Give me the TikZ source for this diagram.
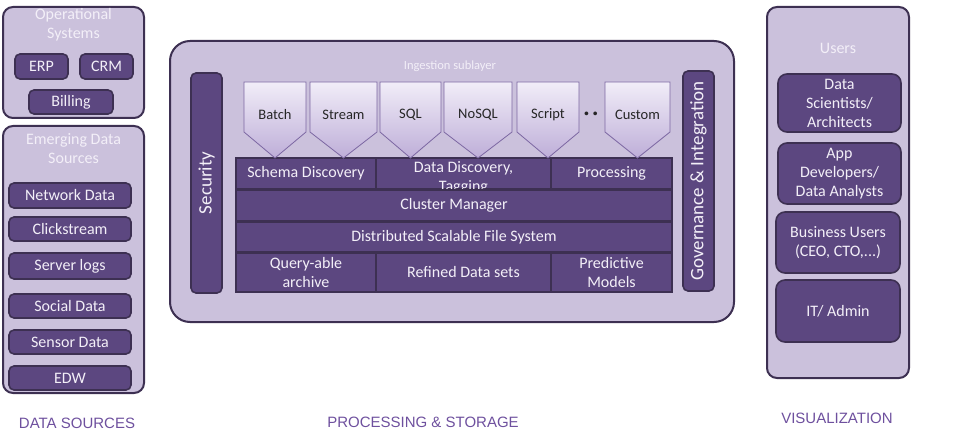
\documentclass[tikz,border=0pt]{standalone}
\usepackage{fontspec}
\setmainfont{Carlito}
\newfontfamily\captionfont{Liberation Sans}
\usepackage{xcolor}
\usepackage{tikz}

\definecolor{boxlight}{HTML}{CBC1DC}
\definecolor{boxedge}{HTML}{3D3052}
\definecolor{boxdark}{HTML}{5C4780}
\definecolor{titletext}{HTML}{F3EFF8}
\definecolor{captiontext}{HTML}{6E509E}
\definecolor{arrowlight}{HTML}{F1EDF8}
\definecolor{arrowdark}{HTML}{BEAED8}
\definecolor{arrowedge}{HTML}{7C67A2}

\begin{document}
\begin{tikzpicture}[x=1pt,y=-1pt,
    group/.style={draw=boxedge,line width=2pt,fill=boxlight,rounded corners=10pt,inner sep=0pt},
    item/.style={draw=boxedge,line width=1.6pt,fill=boxdark,rounded corners=5pt,inner sep=0pt,
      text=titletext,align=center,font=\fontsize{16}{19}\selectfont},
    layer/.style={draw=boxedge,line width=1.6pt,fill=boxdark,inner sep=0pt},
    layertext/.style={text=titletext,align=center,inner sep=0pt,font=\fontsize{16}{19}\selectfont},
    grouptitle/.style={text=titletext,align=center,inner sep=0pt,font=\fontsize{16}{19}\selectfont},
    bar/.style={draw=boxedge,line width=1.6pt,fill=boxdark,rounded corners=5pt,inner sep=0pt,
      text=titletext,font=\fontsize{19}{22}\selectfont},
    ingest/.style={draw=arrowedge,line width=0.8pt,shading angle=135,top color=arrowlight,bottom color=arrowdark},
    ingesttext/.style={text=black!85,inner sep=0pt,font=\fontsize{14.5}{16}\selectfont},
    caption/.style={text=captiontext,inner sep=0pt,font=\captionfont\fontsize{15}{17}\selectfont}]
  \useasboundingbox (0,0) rectangle (956,441);

  % data sources
  \node[group,minimum width=141pt,minimum height=111pt] (ops) at (73.5,62.5) {};
  \node[grouptitle] (opstitle) at (73.5,25) {Operational\\Systems};
  \node[item,minimum width=53pt,minimum height=25pt] (erp) at (41.5,66.5) {ERP};
  \node[item,minimum width=53pt,minimum height=25pt] (crm) at (106.5,66.5) {CRM};
  \node[item,minimum width=84pt,minimum height=24pt] (billing) at (71,102) {Billing};

  \node[group,minimum width=141pt,minimum height=267pt] (emerging) at (73.5,259.5) {};
  \node[grouptitle] (emergingtitle) at (73.5,149) {Emerging Data\\Sources};
  \node[item,minimum width=122pt,minimum height=25pt] (network) at (70,195.5) {Network Data};
  \node[item,minimum width=122pt,minimum height=24pt] (click) at (70,229) {Clickstream};
  \node[item,minimum width=122pt,minimum height=26pt] (logs) at (70,266) {Server logs};
  \node[item,minimum width=122pt,minimum height=24pt] (social) at (70,306) {Social Data};
  \node[item,minimum width=122pt,minimum height=24pt] (sensor) at (70,342) {Sensor Data};
  \node[item,minimum width=122pt,minimum height=24pt] (edw) at (70,378) {EDW};

  % processing and storage
  \node[group,rounded corners=20pt,minimum width=564pt,minimum height=281pt] (proc) at (452,181.5) {};
  \node[grouptitle,font=\fontsize{12.5}{15}\selectfont] (ingestion) at (450,66) {Ingestion sublayer};
  \node[bar,minimum width=31pt,minimum height=220pt] (security) at (206.5,183) {\rotatebox{90}{Security}};
  \node[bar,minimum width=31pt,minimum height=220pt] (governance) at (698.5,181) {\rotatebox{90}{Governance \& Integration}};

  \node[layer,minimum width=140pt,minimum height=31pt] (schema) at (306,173.5) {};
  \node[layer,minimum width=174pt,minimum height=31pt] (discovery) at (463.5,173.5) {};
  \node[layer,minimum width=121pt,minimum height=31pt] (processing) at (611.5,173.5) {};
  \node[layertext] at (schema.center) {Schema Discovery};
  \node[layertext] at ([yshift=-4pt]discovery.center) {Data Discovery,\\Tagging};
  \node[layertext] at (processing.center) {Processing};
  \node[layer,minimum width=436pt,minimum height=31pt] (cluster) at (454,205.5) {};
  \node[layertext] at (cluster.center) {Cluster Manager};
  \node[layer,minimum width=436pt,minimum height=30pt] (dfs) at (454,237) {};
  \node[layertext] at (dfs.center) {Distributed Scalable File System};
  \node[layer,minimum width=140pt,minimum height=39pt] (archive) at (306,272.5) {};
  \node[layer,minimum width=174pt,minimum height=39pt] (refined) at (463.5,272.5) {};
  \node[layer,minimum width=121pt,minimum height=39pt] (models) at (611.5,272.5) {};
  \node[layertext] at (archive.center) {Query-able\\archive};
  \node[layertext] at (refined.center) {Refined Data sets};
  \node[layertext] at (models.center) {Predictive\\Models};

  % ingestion arrows
  \foreach \xa/\xb/\name/\txt in {244/306/batch/Batch,310/377/stream/Stream,380/441/sql/SQL,
      444/512/nosql/NoSQL,517/579/script/Script,605/670/custom/Custom} {
    \draw[ingest] (\xa,82) -- (\xb,82) -- (\xb,132) -- ({(\xa+\xb)/2},158) -- (\xa,132) -- cycle;
    \node[ingesttext] (\name) at ({(\xa+\xb)/2},115) {\txt};
  }
  \node[ingesttext,font=\fontsize{20}{20}\bfseries] (more) at (591,116) {·\,·};

  % visualization
  \node[group,minimum width=142pt,minimum height=371pt] (users) at (838,192.5) {};
  \node[grouptitle] (userstitle) at (838,48) {Users};
  \node[item,rounded corners=9pt,minimum width=123pt,minimum height=58pt] (scientists) at (839.5,103) {Data\\Scientists/\\Architects};
  \node[item,rounded corners=9pt,minimum width=123pt,minimum height=61pt] (developers) at (839.5,173.5) {App\\Developers/\\Data Analysts};
  \node[item,rounded corners=9pt,minimum width=124pt,minimum height=61pt] (business) at (838,242.5) {Business Users\\(CEO, CTO,...)};
  \node[item,rounded corners=9pt,minimum width=124pt,minimum height=62pt] (admin) at (838,311) {IT/ Admin};

  % captions
  \node[caption] (capsources) at (77,423) {DATA SOURCES};
  \node[caption] (capprocessing) at (423,422) {PROCESSING \& STORAGE};
  \node[caption] (capvisual) at (837,418) {VISUALIZATION};
\end{tikzpicture}
\end{document}
